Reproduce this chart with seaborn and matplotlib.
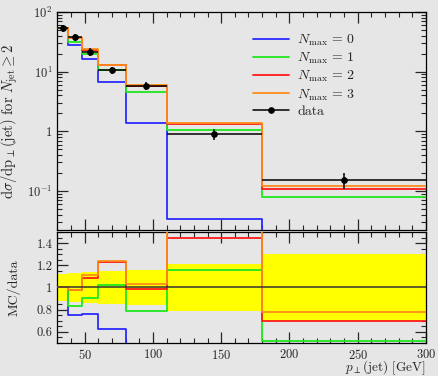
import numpy as np
import pandas as pd
import matplotlib
matplotlib.use("Agg")
import matplotlib.pyplot as plt
from matplotlib.lines import Line2D
from matplotlib.ticker import FixedLocator, MultipleLocator, LogLocator, FuncFormatter, NullFormatter
import seaborn as sns

# bin edges in GeV
edges = [30, 38, 48, 60, 80, 110, 180, 300]

# data
data_vals = [53.0, 37.6, 21.5, 10.6, 5.8, 0.91, 0.152]
data_err = [6.6, 4.9, 3.0, 1.6, 0.93, 0.19, 0.046]

# MC predictions
nmax0 = [53.0, 28.4, 16.3, 6.6, 1.40, 0.0332, 0.0]
nmax1 = [53.0, 31.2, 19.5, 10.85, 4.55, 1.056, 0.078]
nmax2 = [53.3, 36.7, 23.3, 13.0, 5.74, 1.315, 0.106]
nmax3 = [53.3, 36.8, 24.0, 13.1, 5.97, 1.37, 0.119]

series_labels = [r"$N_\mathrm{max}\,=\,0$", r"$N_\mathrm{max}\,=\,1$",
                 r"$N_\mathrm{max}\,=\,2$", r"$N_\mathrm{max}\,=\,3$"]
series_colors = ["#2a2aff", "#1ee61e", "#ff1a1a", "#ff8c1a"]

sns.set_theme(style="ticks")
bg = "#e6e6e6"
plt.rcParams.update({
    "font.family": "serif",
    "font.serif": ["cmr10", "DejaVu Serif"],
    "mathtext.fontset": "cm",
    "axes.formatter.use_mathtext": True,
    "figure.facecolor": bg,
    "axes.facecolor": bg,
    "axes.edgecolor": "black",
    "axes.linewidth": 0.9,
    "xtick.direction": "in",
    "ytick.direction": "in",
    "xtick.top": True,
    "ytick.right": True,
    "xtick.major.size": 8,
    "ytick.major.size": 8,
    "xtick.minor.size": 3.8,
    "ytick.minor.size": 3.8,
    "xtick.major.width": 0.9,
    "ytick.major.width": 0.9,
    "xtick.minor.width": 0.8,
    "ytick.minor.width": 0.8,
    "xtick.labelsize": 9,
    "ytick.labelsize": 9,
})

fig = plt.figure(figsize=(4.39, 3.76), dpi=100)
ax = fig.add_axes([0.1305, 0.388, 0.840, 0.580])
rax = fig.add_axes([0.1305, 0.088, 0.840, 0.295])

edges_arr = np.array(edges)
centers = 0.5 * (edges_arr[:-1] + edges_arr[1:])
halfw = 0.5 * np.diff(edges_arr)
dvals = np.array(data_vals)
derr = np.array(data_err)

# ratio band (data uncertainty)
rel = derr / dvals
rax.stairs(1 + rel, edges_arr, baseline=1 - rel, fill=True, color="#ffff00", lw=0, zorder=1)

handles = []
for vals, lab, col in zip([nmax0, nmax1, nmax2, nmax3], series_labels, series_colors):
    v = np.array(vals, dtype=float)
    vplot = np.where(v > 0, v, 1e-6)
    df = pd.DataFrame({"x": edges_arr, "y": np.append(vplot, vplot[-1])})
    sns.lineplot(data=df, x="x", y="y", ax=ax, color=col, lw=1.3,
                 drawstyle="steps-post", legend=False, zorder=3)
    r = np.where(v > 0, v / dvals, 1e-3)
    rdf = pd.DataFrame({"x": edges_arr, "y": np.append(r, r[-1])})
    sns.lineplot(data=rdf, x="x", y="y", ax=rax, color=col, lw=1.3,
                 drawstyle="steps-post", legend=False, zorder=3)
    handles.append(Line2D([], [], color=col, lw=1.3, label=lab))

ax.errorbar(centers, dvals, xerr=halfw, yerr=derr, fmt="o", color="black",
            ms=3.8, lw=1.1, capsize=0, zorder=4)
rax.errorbar(centers, np.ones_like(dvals), xerr=halfw, fmt="none", color="#333333",
             lw=1.1, zorder=4)
handles.append(Line2D([], [], color="black", lw=1.1, marker="o", ms=3.8, label="data"))

# top panel axes
ax.set_yscale("log")
ax.set_xlim(30, 300)
ax.set_ylim(0.022, 100)
ax.xaxis.set_major_locator(MultipleLocator(50))
ax.xaxis.set_minor_locator(MultipleLocator(10))
ax.set_xticklabels([])
ax.yaxis.set_major_locator(LogLocator(base=10, numticks=10))
ax.yaxis.set_minor_locator(LogLocator(base=10, subs=np.arange(2, 10), numticks=20))
ax.yaxis.set_minor_formatter(NullFormatter())
ax.yaxis.set_major_formatter(FuncFormatter(
    lambda v, p: "1" if abs(v - 1) < 1e-9 else r"$10^{%d}$" % round(np.log10(v))))
ax.set_xlabel("")
ax.set_ylabel(r"$\mathrm{d}\sigma/\mathrm{dp}_{\perp}\mathrm{(jet)\ for}\ N_\mathrm{jet}\geq 2$",
              fontsize=10.5)
ax.yaxis.set_label_coords(-0.1, 0.5)

ax.legend(handles=handles, loc="upper left", bbox_to_anchor=(0.515, 0.93), frameon=False,
          fontsize=10, handlelength=2.6, labelspacing=0.2, handletextpad=0.6,
          borderaxespad=0)

# ratio panel axes
rax.set_xlim(30, 300)
rax.set_ylim(0.5, 1.5)
rax.xaxis.set_major_locator(MultipleLocator(50))
rax.xaxis.set_minor_locator(MultipleLocator(10))
rax.yaxis.set_major_locator(FixedLocator([0.6, 0.8, 1.0, 1.2, 1.4]))
rax.yaxis.set_minor_locator(MultipleLocator(0.05))
rax.yaxis.set_major_formatter(FuncFormatter(lambda v, p: "1" if abs(v - 1) < 1e-9 else "%.1f" % v))
rax.set_ylabel("MC/data", fontsize=10)
rax.yaxis.set_label_coords(-0.1, 0.5)
rax.set_xlabel(r"$p_{\perp}\mathrm{(jet)}\ \mathrm{[GeV]}$", fontsize=9.5, loc="right")
rax.xaxis.set_label_coords(1.0, -0.14)

fig.savefig("out.png", dpi=100, facecolor=bg)
